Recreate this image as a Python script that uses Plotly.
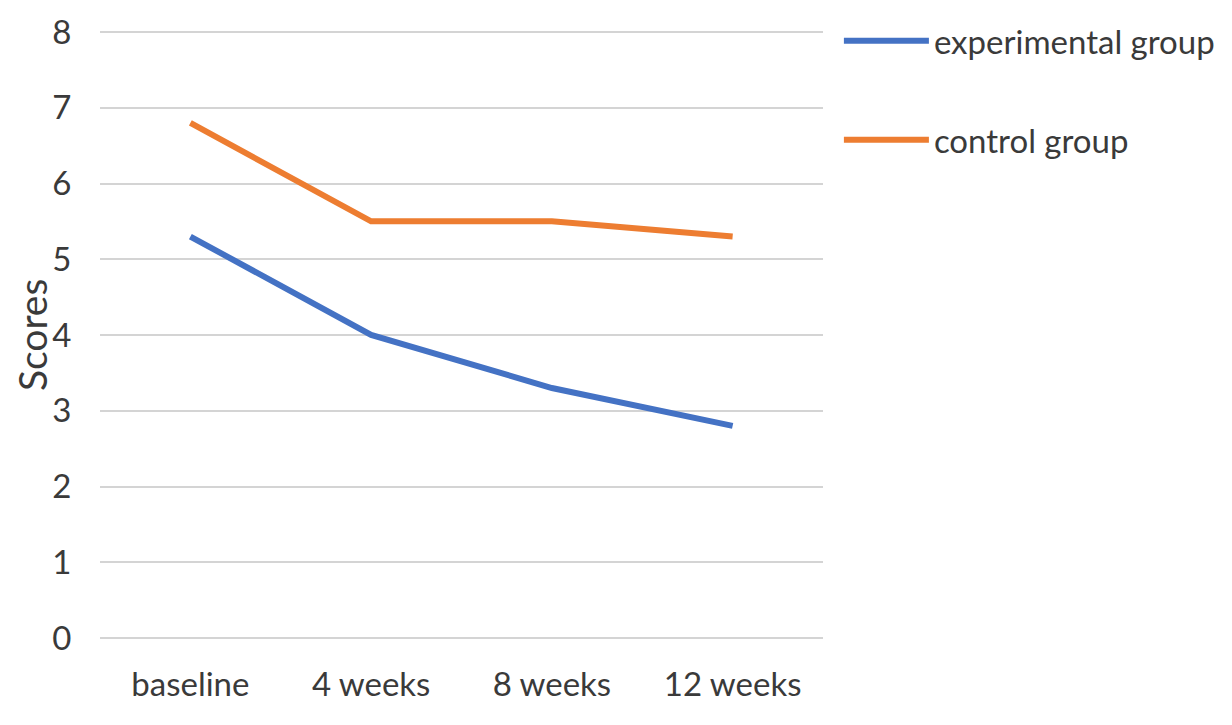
import plotly.graph_objects as go

categories = ["baseline", "4 weeks", "8 weeks", "12 weeks"]
experimental = [5.3, 4.0, 3.3, 2.8]
control = [6.8, 5.5, 5.5, 5.3]
y_ticks = [0, 1, 2, 3, 4, 5, 6, 7, 8]
y_title = "Scores"

FONT = "Lato"
TXT = "#3a3a3a"
FS = 33

fig = go.Figure()
fig.add_trace(go.Scatter(x=categories, y=experimental, mode="lines",
                         name="experimental group", legendgroup="a",
                         line=dict(color="#4472C4", width=6)))
fig.add_trace(go.Scatter(x=categories, y=control, mode="lines",
                         name="control group", legendgroup="b",
                         line=dict(color="#ED7D31", width=6)))

fig.update_layout(
    width=1232, height=725,
    margin=dict(l=92, r=417, t=22, b=93, autoexpand=False),
    paper_bgcolor="white", plot_bgcolor="white",
    font=dict(family=FONT, size=FS, color=TXT),
    legend=dict(x=1.022, xanchor="left", y=1.028, yanchor="top",
                xref="paper", yref="paper",
                font=dict(family=FONT, size=FS, color=TXT),
                traceorder="grouped", tracegroupgap=53,
                itemwidth=85, bgcolor="rgba(0,0,0,0)"),
    showlegend=True,
)
fig.add_annotation(text=y_title, textangle=-90, showarrow=False,
                   xref="paper", yref="paper", x=-0.094, y=0.5,
                   xanchor="center", yanchor="middle",
                   font=dict(family=FONT, size=39, color=TXT))
fig.update_xaxes(type="category", range=[-0.5, 3.5], showgrid=False,
                 showline=False, zeroline=False, ticks="outside", ticklen=15,
                 tickcolor="rgba(0,0,0,0)", automargin=False,
                 tickfont=dict(family=FONT, size=FS, color=TXT))
fig.update_yaxes(range=[-0.0264, 8.0264], tickvals=y_ticks, showgrid=True,
                 gridcolor="#D4D4D4", gridwidth=2, zeroline=False,
                 showline=False, ticks="outside", ticklen=21,
                 tickcolor="rgba(0,0,0,0)", automargin=False,
                 tickfont=dict(family=FONT, size=FS, color=TXT))

fig.write_html("out.html")
